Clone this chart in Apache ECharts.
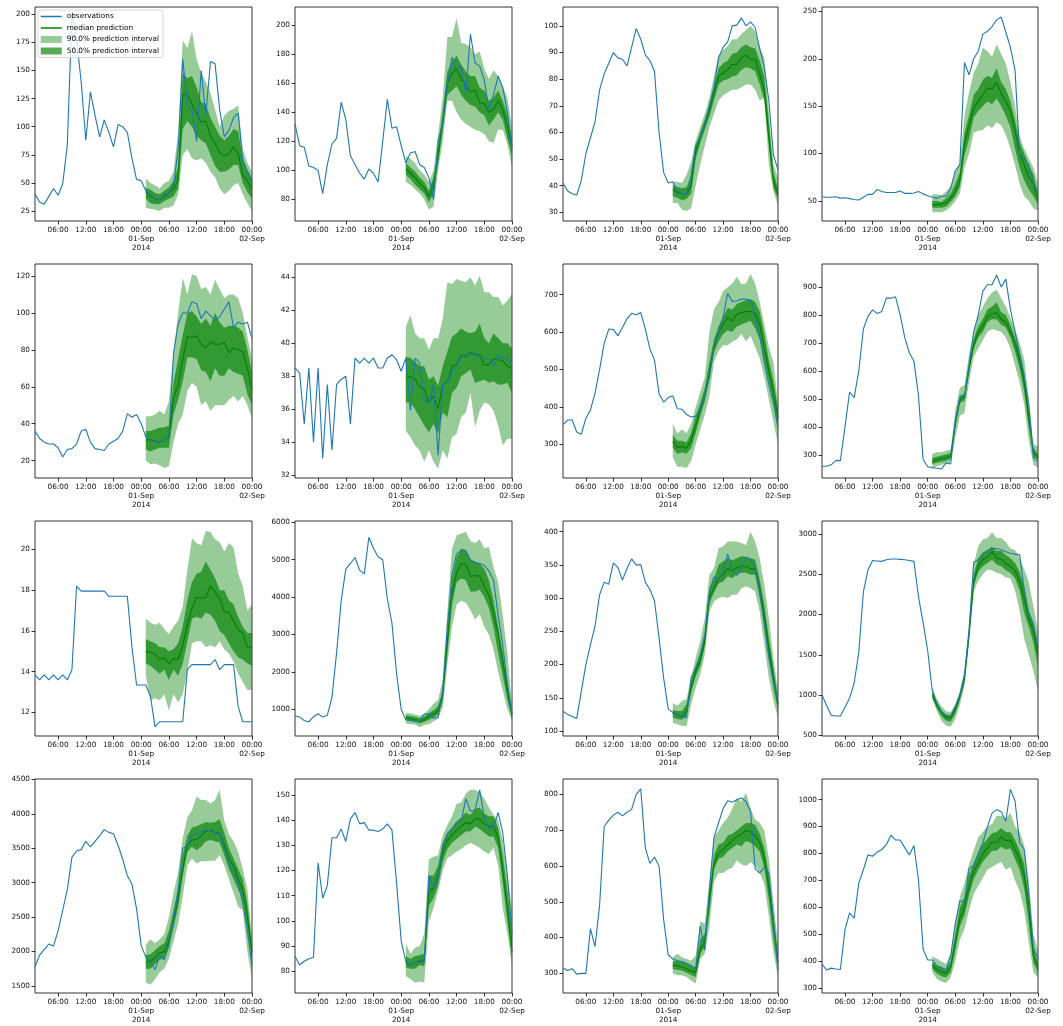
<!DOCTYPE html>
<html><head><meta charset="utf-8">
<script src="https://cdn.jsdelivr.net/npm/echarts@6/dist/echarts.min.js"></script>
<style>html,body{margin:0;padding:0;background:#fff}#c{width:1063px;height:1026px}</style>
</head><body><div id="c"></div><script>
// ---------- DATA ----------
const hours = [1,2,3,4,5,6,7,8,9,10,11,12,13,14,15,16,17,18,19,20,21,22,23,24,25,26,27,28,29,30,31,32,33,34,35,36,37,38,39,40,41,42,43,44,45,46,47,48];
const predHours = [25,26,27,28,29,30,31,32,33,34,35,36,37,38,39,40,41,42,43,44,45,46,47,48];
const xTickHours = [6,12,18,24,30,36,42,48];
const xTickLabels = ['06:00','12:00','18:00','00:00\n01-Sep\n2014','06:00','12:00','18:00','00:00\n02-Sep'];
const legendNames = ['observations','median prediction','90.0% prediction interval','50.0% prediction interval'];

const obs1 = [40,33,31,38,45,39,49,84,200,178,140,88,131,110,91,106,95,82,102,100,95,72,53,52,43,39,36,35,39,41,47,80,160,120,115,87,150,110,158,156,115,91,97,108,112,70,60,50];
const med1 = [42,38,36,35,38,41,45,52,129,129,120,112,104,105,92,85,77,74,76,82,76,57,52,44];
const lo90_1 = [28,27,26,25,28,28,30,40,75,80,72,70,72,68,60,55,45,40,43,48,50,40,32,25];
const hi90_1 = [54,50,48,45,50,52,60,95,177,170,185,160,148,140,130,115,100,110,114,116,119,80,68,60];
const lo50_1 = [36,32,31,31,34,36,38,45,98,105,100,92,88,85,75,65,60,60,62,66,66,50,42,36];
const hi50_1 = [46,44,41,40,43,46,52,65,148,143,145,135,122,120,108,100,92,88,92,98,96,72,62,54];
const yTicks1 = [25,50,75,100,125,150,175,200];

const obs2 = [132,117,116,103,102,100,84,104,118,122,147,135,110,104,98,94,101,98,92,120,149,129,130,117,105,112,113,104,102,95,80,120,133,160,178,170,172,153,194,174,172,162,142,152,165,157,140,115];
const med2 = [101,98,95,91,88,82,90,110,135,160,167,170,163,159,154,155,147,146,140,142,148,142,130,117];
const lo90_2 = [92,90,87,84,80,73,75,100,120,148,148,140,135,132,130,128,127,125,120,119,128,128,118,102];
const hi90_2 = [110,108,105,100,97,92,100,125,150,192,192,205,188,187,185,180,182,170,163,169,165,158,150,130];
const lo50_2 = [97,94,90,87,84,78,84,105,128,152,155,158,152,148,145,144,140,138,131,135,140,135,122,110];
const hi50_2 = [105,102,99,95,92,86,95,115,140,168,175,179,173,168,165,165,157,155,148,150,155,148,138,122];
const yTicks2 = [80,100,120,140,160,180,200];

const obs3 = [41,38,37,36.5,42,52,58,64,76,82,86,90,88,87.5,85,92,99,95,89,87,83,60,45,41,41.5,38,37,37,44,55,58,63,70,77,88,92,94,100,100.3,103,100,101.5,99.5,91.5,84.5,72,51.5,46];
const med3 = [38.5,37.5,37,37,40,53,58,63,68,75,81,82.5,83.5,85.5,85.5,88,89,87.5,87.5,82,76,58,42,37];
const lo90_3 = [33.5,33.5,31,30.5,31.5,40,48,55,62,67,72,74,75,76,76,77,78,78,76,72,73,48,38,32.5];
const hi90_3 = [41.5,41.5,41,44,49,57,62,67,73,81,89,91,92.5,95,95,97,98.5,100,98,92,88,68,48,43];
const lo50_3 = [36,35.5,34.5,35,37,50,56,61,66,72,78,79.5,80,81,81.5,83.5,84.5,84,83,78,72,55,39,35];
const hi50_3 = [40,39.5,39,39.5,43,55,60,65,70,77,84,86,87,89.5,90,92,93,92,91.5,87,81,64,45,39];
const yTicks3 = [30,40,50,60,70,80,90,100];

const obs4 = [54.5,54,54,54.5,53,53.5,52.5,51.5,51,54,57,57,62,60,59,59,59,60.5,58,58,58.5,60,57.5,55.5,54,53,55,55,63,82,88,196,183,200,208,226,229,234,241,244,228,212,188,100,95,88,68,60];
const med4 = [46,46,47,48,53,60,72,110,130,148,155,162,169,168,175,163,155,145,125,100,88,75,68,52];
const lo90_4 = [38,38,38,40,44,50,58,85,100,122,124,125,130,127,133,130,120,105,88,68,55,50,42,40];
const hi90_4 = [57,57,56,60,66,80,90,140,165,185,195,212,208,202,215,205,195,175,150,118,105,95,85,68];
const lo50_4 = [43,43,43,44,49,55,65,98,115,138,145,150,155,152,158,150,140,128,105,85,72,62,55,46];
const hi50_4 = [50,50,49,53,58,68,80,122,140,162,168,178,182,180,190,175,168,155,135,112,100,88,78,58];
const yTicks4 = [50,100,150,200,250];

const obs5 = [36,32,30,29,29,27,22,26,26.5,29,36,37,30,26.5,26,25.5,29,30.5,32,36,45.5,43.5,45,40,33,31,30,30,31,33,78,94,100,100,106,105,97,101,98.5,96,98,102,106,92,95,94,95,86];
const med5 = [31,31.5,30.5,30,31,33,54,61,75,87,87,87.5,83,81,84.5,83,83,84,78.5,81,80,79,70,58];
const lo90_5 = [20,18,18.5,17.5,16,17,30,40,45,58,62,60,50,52,47,50,50,50,53,55,52,55,50,43];
const hi90_5 = [44,44,45,47,45,52,78,100,119,110,121,120,113,114,110,118,113,108,110,110,108,100,87,75];
const lo50_5 = [26,25,26,27,27,27,45,53,63,76,76,75,69,68,63,70,66,66,70,68,67,66,56,50];
const hi50_5 = [36,36,37,38,38,39,62,75,88,100,101,98,94,97,93,100,95,92,93,93,92,90,80,68];
const yTicks5 = [20,40,60,80,100,120];

const obs6 = [38.5,38.2,35.1,38.5,34,38.5,33,37.5,33.5,37.5,37.8,38,35.1,39.1,38.8,39.1,38.8,39.1,38.5,38.5,39.1,39.3,39,38.3,39.1,35.9,39.1,38.8,36.6,36.3,37.5,33.2,37.5,37.6,38.3,38.6,39.2,39.3,39.3,39.4,39.1,39.1,39.0,38.6,39.3,39.1,39.1,38.7];
const med6 = [37.9,37.95,37.85,37.35,37.2,36.4,36.8,36.0,37.5,37.6,38.6,38.7,39.3,39.2,39.45,39.3,39.3,38.7,38.7,39.05,39.0,38.95,38.6,38.5];
const lo90_6 = [34.7,34.3,33.8,33.5,32.8,33.5,32.8,32.4,33.5,33,34.3,34.5,35.5,35.8,37.0,34.9,35.9,36.4,36.3,35.9,35.0,33.8,34.2,34.2];
const hi90_6 = [41.0,41.7,40.6,40.3,40.3,39.6,40.3,40.3,41.5,43.7,43.6,43.9,43.8,43.7,44.0,43.5,44.1,43.1,43.1,42.8,42.8,42.3,42.6,43.0];
const lo50_6 = [36.4,36.4,36.0,35.5,35.0,34.6,35.1,34.5,35.8,35.5,37.0,37.3,38.0,38.2,38.4,37.6,37.7,37.8,37.6,37.7,37.5,37.5,37.6,37.0];
const hi50_6 = [39.2,39.1,38.9,38.6,38.6,37.8,38.0,37.4,38.6,39.5,40.4,40.6,40.9,40.7,40.6,40.7,41.2,40.3,40.0,40.6,40.3,40.0,40.0,39.7];
const yTicks6 = [32,34,36,38,40,42,44];

const obs7 = [353,365,365,333,327,370,392,437,500,570,608,607,590,612,636,650,646,652,608,555,525,435,413,425,430,395,394,380,373,375,395,430,480,560,600,640,703,682,683,688,688,684,640,590,520,460,410,345];
const med7 = [308,292,294,290,310,350,390,430,490,560,600,620,640,630,648,652,655,655,650,620,560,495,440,370];
const lo90_7 = [265,240,240,237,255,300,340,380,430,520,550,565,565,575,580,595,575,590,560,530,480,420,360,300];
const hi90_7 = [355,330,340,330,355,400,440,480,600,660,680,710,720,730,748,728,730,755,730,680,620,560,520,410];
const lo50_7 = [290,275,278,275,290,330,375,415,475,545,575,595,605,600,615,620,625,630,610,580,525,470,410,340];
const hi50_7 = [325,310,310,305,330,375,410,450,520,580,615,640,665,660,675,680,685,688,680,655,595,525,470,395];
const yTicks7 = [300,400,500,600,700];

const obs8 = [260,260,265,280,280,400,525,505,600,750,795,818,805,812,860,860,865,800,720,665,635,510,285,258,255,253,250,272,268,420,505,510,620,740,800,885,908,908,943,900,928,820,740,660,580,480,290,275];
const med8 = [278,283,287,291,296,410,497,505,610,690,740,760,795,805,808,785,775,740,700,640,560,430,310,290];
const lo90_8 = [255,260,265,270,275,360,440,450,560,650,680,710,740,750,745,740,720,680,620,560,480,350,265,255];
const hi90_8 = [305,310,310,315,320,460,540,550,660,740,800,830,860,880,890,860,830,790,750,700,640,500,340,330];
const lo50_8 = [268,272,276,280,286,400,485,495,595,680,720,740,775,785,785,765,755,720,670,610,525,400,295,282];
const hi50_8 = [290,294,298,302,307,430,512,520,630,715,760,785,820,830,845,810,800,765,720,670,595,460,325,305];
const yTicks8 = [300,400,500,600,700,800,900];

const obs9 = [13.85,13.6,13.85,13.6,13.85,13.6,13.85,13.6,14.1,18.2,17.95,17.95,17.95,17.95,17.95,17.95,17.7,17.7,17.7,17.7,17.7,15.2,13.35,13.35,13.35,12.8,11.3,11.55,11.55,11.55,11.55,11.55,11.55,14.1,14.35,14.35,14.35,14.35,14.35,14.6,14.1,14.35,14.35,14.35,12.3,11.55,11.55,11.55];
const med9 = [15.0,14.95,14.85,14.6,14.7,14.4,14.65,14.6,15.3,16.3,17.1,17.65,17.6,17.65,18.2,17.9,17.6,16.95,16.9,16.5,16.05,15.9,15.2,15.2];
const lo90_9 = [13.8,12.6,12.7,12.6,12.9,12.1,12.9,12.5,12.9,14.0,15.4,15.5,15.5,15.2,15.3,15.2,15.5,15.1,14.9,14.5,13.9,13.5,13.1,13.1];
const hi90_9 = [16.6,16.4,16.3,16.4,16.1,15.85,16.2,16.5,17.2,19.0,20.55,20.3,20.2,20.9,20.85,20.5,20.35,19.9,20.3,20.1,18.8,18.2,17.0,17.3];
const lo50_9 = [14.4,14.3,14.1,13.9,14.1,13.6,14.1,13.8,14.4,15.5,16.6,16.7,16.6,16.9,16.8,16.5,16.0,15.8,15.4,15.0,14.7,14.6,14.4,14.3];
const hi50_9 = [15.6,15.5,15.4,15.2,15.2,15.0,15.1,15.4,16.2,17.5,18.4,18.8,18.9,19.4,19.0,18.6,18.0,18.0,17.5,17.3,16.7,16.2,15.9,15.9];
const yTicks9 = [12,14,16,18,20];

const obs10 = [820,790,700,660,800,880,790,840,1320,2500,3900,4750,4900,5060,4720,4620,5600,5300,5080,5000,3950,3300,1950,1000,720,710,700,700,870,880,760,780,1500,3200,4600,5150,5250,5250,5000,4920,4900,4850,4700,4450,3500,2700,1700,900];
const med10 = [780,740,720,690,720,820,870,960,1400,2800,4100,4650,4900,4880,4560,4580,4560,4300,4050,3600,3000,2300,1500,850];
const lo90_10 = [620,600,590,520,580,600,680,750,1050,2200,3200,3800,3900,3850,3650,3400,3550,3200,3000,2600,2000,1500,1000,700];
const hi90_10 = [900,890,860,820,880,1000,1150,1250,1800,3600,5300,5650,5700,5750,5500,5450,5550,5300,5350,4800,4400,3500,2500,1100];
const lo50_10 = [700,680,650,620,660,720,780,860,1200,2500,3800,4400,4500,4450,4150,4150,4200,4000,3700,3200,2500,1900,1250,780];
const hi50_10 = [840,820,800,760,800,900,970,1080,1500,3100,4500,5050,5300,5250,5000,4950,4900,4750,4450,3900,3200,2500,1700,900];
const yTicks10 = [1000,2000,3000,4000,5000,6000];

const obs11 = [130,125,122,119,160,200,230,258,305,324,321,353,346,327,345,359,350,350,324,313,296,240,180,133,128,124,123,120,180,195,215,245,310,332,328,340,366,342,334,346,362,358,345,310,260,210,175,145];
const med11 = [127,124,122,130,165,190,205,235,300,315,330,335,345,341,346,348,348,344,344,315,275,225,180,140];
const lo90_11 = [112,110,108,107,140,165,185,215,280,295,300,302,300,305,305,315,318,315,310,280,230,180,145,120];
const hi90_11 = [142,138,145,148,180,210,235,270,335,345,375,378,385,385,385,383,380,400,385,360,320,270,210,160];
const lo50_11 = [120,118,117,122,158,182,198,228,292,308,322,325,333,330,336,338,338,335,335,300,260,210,165,130];
const hi50_11 = [132,130,130,140,175,198,215,245,315,328,350,355,360,357,360,363,362,360,358,328,290,240,195,150];
const yTicks11 = [100,150,200,250,300,350,400];

const obs12 = [1000,870,750,740,740,850,960,1150,1530,2280,2550,2670,2665,2660,2680,2690,2690,2685,2680,2670,2660,2220,1900,1550,1050,900,790,740,740,860,1000,1250,1800,2650,2680,2750,2790,2820,2820,2800,2780,2760,2750,2740,2300,2000,1880,1600];
const med12 = [1000,870,780,720,715,820,980,1200,1750,2400,2600,2680,2720,2780,2700,2690,2630,2600,2540,2420,2200,1950,1800,1500];
const lo90_12 = [950,800,680,620,610,700,880,1120,1650,2280,2420,2500,2560,2550,2520,2500,2460,2450,2300,2050,1700,1500,1300,1050];
const hi90_12 = [1100,950,860,800,790,880,1060,1300,1900,2620,2850,2930,2950,3020,2950,2950,2900,2820,2800,2700,2560,2400,2100,1800];
const lo50_12 = [970,840,740,680,670,770,940,1160,1700,2350,2530,2600,2640,2680,2620,2600,2550,2520,2450,2300,2020,1850,1650,1350];
const hi50_12 = [1040,910,810,760,750,860,1010,1250,1840,2500,2700,2770,2800,2840,2790,2790,2740,2700,2640,2530,2350,2050,1900,1600];
const yTicks12 = [500,1000,1500,2000,2500,3000];

const obs13 = [1780,1950,2030,2110,2080,2300,2600,2900,3370,3460,3480,3600,3520,3600,3680,3770,3730,3710,3540,3340,3100,2980,2620,2090,1920,1850,1740,1940,1880,2100,2450,2900,3500,3530,3700,3700,3740,3770,3750,3720,3720,3500,3300,3150,3000,2700,2300,1800];
const med13 = [1850,1860,1910,1980,2000,2150,2450,2750,3200,3550,3620,3630,3680,3750,3760,3730,3720,3550,3350,3250,3050,2900,2500,2000];
const lo90_13 = [1550,1520,1600,1700,1750,1900,2150,2400,2800,3250,3350,3280,3310,3310,3320,3320,3400,3250,3050,2850,2650,2600,2000,1600];
const hi90_13 = [2100,2180,2120,2180,2250,2500,2850,3150,3650,3950,4050,4250,4200,4200,4150,4200,4350,3900,3700,3600,3450,3200,2900,2200];
const lo50_13 = [1750,1750,1820,1880,1900,2050,2350,2650,3100,3450,3520,3470,3520,3600,3620,3600,3580,3400,3200,3050,2900,2750,2350,1850];
const hi50_13 = [1950,1960,2020,2080,2120,2300,2600,2900,3400,3680,3800,3820,3850,3880,3870,3880,3920,3720,3500,3350,3200,3050,2700,2100];
const yTicks13 = [1500,2000,2500,3000,3500,4000,4500];

const obs14 = [86,82.5,84,85,85.5,123,109,114,133,133,136.5,131.5,140.5,143,138.5,139,136,136,135.5,136.5,138.5,136,115,92,84,82.5,83.5,84.5,84,118,113,117,130,134.5,136.5,139,139.5,148.5,143.5,144,152,141,136.5,137,143,135,118,95];
const med14 = [83.5,82.5,83.5,84,84,112,113,118,127,132,134,136,137.5,139,138.5,140.5,140.5,138.5,137.5,137.5,133,120,105,88];
const lo90_14 = [78,77,75.5,76,75.5,100,105,112,120,125,126,127.5,128.5,130,131,130,129,127.5,126.5,129,122,105,95,82];
const hi90_14 = [91,87,89.5,90,95,124.5,125.5,126,134,138,141.5,146.5,147,150.5,152,152,151,148.5,145,142,140,132,118,105];
const lo50_14 = [81.5,81,81,82.5,82,106,109,114,123.5,128.5,131,132.5,134,135.5,135.5,137.5,136.5,135,133.5,133.5,129,115,100,86];
const hi50_14 = [86,85,86,86.5,87,118,118,122,131,135,137,139.5,141,143,142,144.5,145,142.5,141.5,141.5,137,126,112,96];
const yTicks14 = [80,90,100,110,120,130,140,150];

const obs15 = [315,308,313,298,300,300,425,375,490,710,728,742,750,740,750,758,800,815,650,607,625,600,450,352,340,335,333,328,322,312,432,365,530,680,720,760,782,778,785,790,780,752,592,580,597,580,450,310];
const med15 = [322,322,318,313,307,303,365,390,500,605,635,645,660,670,683,688,700,695,685,665,625,540,440,330];
const lo90_15 = [300,295,295,290,280,272,340,355,430,555,580,580,590,595,615,605,600,610,600,580,550,460,360,290];
const hi90_15 = [345,355,345,340,335,350,445,440,560,680,700,720,735,760,790,780,805,760,730,720,700,620,500,380];
const lo50_15 = [312,310,308,302,296,290,355,375,475,590,620,625,640,650,660,655,670,665,655,640,595,505,395,310];
const hi50_15 = [333,335,333,328,320,318,395,410,530,630,660,665,685,690,700,710,720,720,715,690,650,575,460,355];
const yTicks15 = [300,400,500,600,700,800];

const obs16 = [390,368,375,372,370,518,580,560,690,740,795,790,805,815,833,868,850,850,822,795,830,700,445,405,405,383,377,368,420,540,625,620,745,755,800,840,900,950,963,955,920,1038,995,840,815,650,450,410];
const med16 = [385,370,362,357,380,470,560,600,680,735,765,800,820,843,840,862,848,850,815,780,720,600,420,380];
const lo90_16 = [360,335,325,320,340,400,480,520,590,650,680,710,740,750,760,770,740,750,700,660,590,470,360,340];
const hi90_16 = [420,410,400,390,430,540,640,690,760,810,860,880,900,910,940,940,930,950,900,880,830,700,500,440];
const lo50_16 = [372,355,345,340,360,440,530,570,645,705,740,770,790,810,810,825,815,820,780,740,670,540,395,360];
const hi50_16 = [398,385,377,372,400,500,600,640,720,765,800,835,855,875,880,895,880,880,850,810,760,640,450,395];
const yTicks16 = [300,400,500,600,700,800,900,1000];

// ---------- LAYOUT ----------
const colLeft = [35, 295, 563, 822];
const colWidth = [217, 217, 215, 216];
const rowTop = [7, 264, 521, 779];
const rowHeight = [214, 214, 215, 214];
const yRange = [
  [16.1,206.5],[65.1,212.6],[26.75,107.1],[28.9,254.6],
  [10.6,126.5],[31.82,44.81],[210.2,781.8],[218,982],
  [10.85,21.39],[284,6036],[92.5,416],[492,3161],
  [1399,4505],[71.4,156.3],[245.2,842.8],[282.7,1076.5]
];

const panels = [
  [obs1,med1,lo90_1,hi90_1,lo50_1,hi50_1,yTicks1],
  [obs2,med2,lo90_2,hi90_2,lo50_2,hi50_2,yTicks2],
  [obs3,med3,lo90_3,hi90_3,lo50_3,hi50_3,yTicks3],
  [obs4,med4,lo90_4,hi90_4,lo50_4,hi50_4,yTicks4],
  [obs5,med5,lo90_5,hi90_5,lo50_5,hi50_5,yTicks5],
  [obs6,med6,lo90_6,hi90_6,lo50_6,hi50_6,yTicks6],
  [obs7,med7,lo90_7,hi90_7,lo50_7,hi50_7,yTicks7],
  [obs8,med8,lo90_8,hi90_8,lo50_8,hi50_8,yTicks8],
  [obs9,med9,lo90_9,hi90_9,lo50_9,hi50_9,yTicks9],
  [obs10,med10,lo90_10,hi90_10,lo50_10,hi50_10,yTicks10],
  [obs11,med11,lo90_11,hi90_11,lo50_11,hi50_11,yTicks11],
  [obs12,med12,lo90_12,hi90_12,lo50_12,hi50_12,yTicks12],
  [obs13,med13,lo90_13,hi90_13,lo50_13,hi50_13,yTicks13],
  [obs14,med14,lo90_14,hi90_14,lo50_14,hi50_14,yTicks14],
  [obs15,med15,lo90_15,hi90_15,lo50_15,hi50_15,yTicks15],
  [obs16,med16,lo90_16,hi90_16,lo50_16,hi50_16,yTicks16]
];

const FONT = 'DejaVu Sans';
const C_OBS = '#1f77b4', C_MED = '#008000';
const C_90 = 'rgba(0,128,0,0.407)', C_50 = 'rgba(0,128,0,0.66)';
const txt = '#111';

const cats = hours.map(String);
const isTick = (idx, val) => xTickHours.indexOf(+val) >= 0;

const grids = [], xAxes = [], yAxes = [], series = [];
panels.forEach((p, i) => {
  const [obs, med, lo90, hi90, lo50, hi50, yt] = p;
  const r = Math.floor(i / 4), c = i % 4;
  grids.push({ left: colLeft[c], top: rowTop[r], width: colWidth[c], height: rowHeight[r],
    show: true, borderColor: '#000', borderWidth: 0.8, backgroundColor: 'transparent',
    containLabel: false, outerBoundsMode: 'none' });
  xAxes.push({ type: 'category', gridIndex: i, data: cats, boundaryGap: false,
    axisLine: { show: false },
    axisTick: { show: true, interval: isTick, length: 3.5, lineStyle: { color: '#000', width: 0.8 } },
    axisLabel: { interval: isTick, margin: 5, fontFamily: FONT, fontSize: 7.3, lineHeight: 8.7, color: txt,
      formatter: (v) => { const k = xTickHours.indexOf(+v); return k >= 0 ? xTickLabels[k] : ''; } },
    splitLine: { show: false } });
  yAxes.push({ type: 'value', gridIndex: i, min: yRange[i][0], max: yRange[i][1], scale: true,
    axisLine: { show: false },
    axisTick: { show: true, customValues: yt, length: 3.5, lineStyle: { color: '#000', width: 0.8 } },
    axisLabel: { customValues: yt, margin: 5, fontFamily: FONT, fontSize: 7.3, color: txt,
      formatter: (v) => String(v) },
    splitLine: { show: false } });
  const pair = (arr) => arr.map((v, k) => [String(predHours[k]), v]);
  const diff = (hi, lo) => hi.map((v, k) => [String(predHours[k]), v - lo[k]]);
  const base = { type: 'line', xAxisIndex: i, yAxisIndex: i, symbol: 'none', silent: true, animation: false };
  series.push(Object.assign({}, base, { name: 'lo90_' + i, stack: 's90_' + i, data: pair(lo90),
    lineStyle: { width: 0, opacity: 0 }, itemStyle: { color: 'transparent' } }));
  series.push(Object.assign({}, base, { name: legendNames[2], stack: 's90_' + i, data: diff(hi90, lo90),
    color: C_90, itemStyle: { color: C_90 }, lineStyle: { width: 0, opacity: 0 },
    areaStyle: { color: C_90, opacity: 1 } }));
  series.push(Object.assign({}, base, { name: 'lo50_' + i, stack: 's50_' + i, data: pair(lo50),
    lineStyle: { width: 0, opacity: 0 }, itemStyle: { color: 'transparent' } }));
  series.push(Object.assign({}, base, { name: legendNames[3], stack: 's50_' + i, data: diff(hi50, lo50),
    color: C_50, itemStyle: { color: C_50 }, lineStyle: { width: 0, opacity: 0 },
    areaStyle: { color: C_50, opacity: 1 } }));
  series.push(Object.assign({}, base, { name: legendNames[1], data: pair(med),
    color: C_MED, itemStyle: { color: C_MED }, lineStyle: { color: C_MED, width: 1.1 } }));
  series.push(Object.assign({}, base, { name: legendNames[0], data: obs,
    color: C_OBS, itemStyle: { color: C_OBS }, lineStyle: { color: C_OBS, width: 1.1 } }));
});

const hiddenSymbol = { color: 'rgba(0,0,0,0)', borderWidth: 0, opacity: 0 };
const chart = echarts.init(document.getElementById('c'), null, { renderer: 'canvas' });
chart.setOption({
  animation: false,
  backgroundColor: '#fff',
  grid: grids, xAxis: xAxes, yAxis: yAxes, series: series,
  legend: {
    left: 38, top: 10, orient: 'vertical', itemGap: 2.5, itemWidth: 21, itemHeight: 7,
    padding: [2, 4, 2, 2], backgroundColor: 'rgba(255,255,255,0.8)', borderColor: '#cccccc',
    borderWidth: 0.8, borderRadius: 2, selectedMode: false,
    textStyle: { fontFamily: FONT, fontSize: 7.3, color: '#000', lineHeight: 9 },
    data: [
      { name: legendNames[0], itemStyle: hiddenSymbol, lineStyle: { width: 1.5, color: C_OBS } },
      { name: legendNames[1], itemStyle: hiddenSymbol, lineStyle: { width: 1.5, color: C_MED } },
      { name: legendNames[2], icon: 'rect' },
      { name: legendNames[3], icon: 'rect' }
    ]
  }
});
</script></body></html>
